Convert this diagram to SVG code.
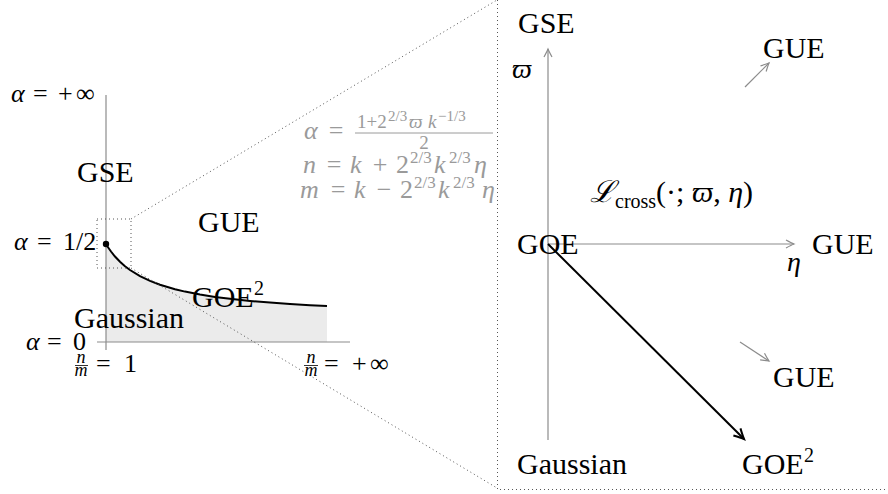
<svg xmlns="http://www.w3.org/2000/svg" width="888" height="494" viewBox="0 0 888 494">
<style>
text{font-family:"Liberation Serif","DejaVu Serif",serif;fill:#000}
.lb{font-size:30px}
.m{font-style:italic}
.ax{font-size:26px}
.f{fill:#9a9a9a;font-size:26px}
.fs{fill:#9a9a9a;font-size:17px}
.fn{fill:#9a9a9a;font-size:19px}
.fx{fill:#9a9a9a;font-size:15px}
.axis{stroke:#8c8c8c;stroke-width:1.2;fill:none}
.dot{stroke:#555;stroke-width:1;stroke-dasharray:1 3;fill:none}
</style>
<defs>
<marker id="ag" markerUnits="userSpaceOnUse" orient="auto" markerWidth="1" markerHeight="1" style="overflow:visible"><path d="M-8,-4 Q-2.5,-1 0,0 Q-2.5,1 -8,4" fill="none" stroke="#8c8c8c" stroke-width="1.2"/></marker>
<marker id="ab" markerUnits="userSpaceOnUse" orient="auto" markerWidth="1" markerHeight="1" style="overflow:visible"><path d="M-10,-5 Q-3,-1.2 0,0 Q-3,1.2 -10,5" fill="none" stroke="#000" stroke-width="2"/></marker>
<clipPath id="cl"><rect x="0" y="0" width="497" height="494"/></clipPath>
</defs>

<g id="left-plot">
<path d="M106,244 L108,247.2 111,251.5 115,256.5 120,261.8 125,266.2 130,270 140,276.2 150,280.9 160,284.8 175,289.2 185,291.6 200,294.5 215,296.9 230,298.8 250,300.9 270,302.6 290,304 310,305.2 327,306.1 L327,342 L106,342 Z" fill="#ebebeb"/>
<line class="axis" x1="106" y1="95" x2="106" y2="350"/>
<line class="axis" x1="97" y1="342" x2="350" y2="342"/>
<path d="M106,244 L108,247.2 111,251.5 115,256.5 120,261.8 125,266.2 130,270 140,276.2 150,280.9 160,284.8 175,289.2 185,291.6 200,294.5 215,296.9 230,298.8 250,300.9 270,302.6 290,304 310,305.2 327,306.1" fill="none" stroke="#000" stroke-width="2"/>
<circle cx="106" cy="244" r="3.2" fill="#000"/>
<rect class="dot" x="97" y="219" width="34" height="49"/>
</g>

<g id="zoom-lines">
<line class="dot" x1="131" y1="219" x2="497" y2="0"/>
<line class="dot" x1="131" y1="268" x2="497" y2="488"/>
<path class="dot" d="M497.5,0 V489.5 H888"/>
</g>

<g id="left-labels">
<text class="ax" y="102"><tspan class="m" x="11">α</tspan><tspan x="33">=</tspan><tspan x="58">+</tspan><tspan x="76" textLength="26">∞</tspan></text>
<text class="ax" y="250"><tspan class="m" x="14">α</tspan><tspan x="37">=</tspan><tspan x="63">1/2</tspan></text>
<text class="ax" y="350"><tspan class="m" x="26">α</tspan><tspan x="47">=</tspan><tspan x="73">0</tspan></text>
<g id="frac1">
<text class="m" x="81" y="363" font-size="18" text-anchor="middle">n</text>
<line x1="75" y1="365.5" x2="88" y2="365.5" stroke="#000" stroke-width="0.8"/>
<text class="m" x="81" y="376" font-size="18" text-anchor="middle">m</text>
<text class="ax" y="372"><tspan x="96">=</tspan><tspan x="124">1</tspan></text>
</g>
<g id="frac2">
<text class="m" x="311" y="363" font-size="18" text-anchor="middle">n</text>
<line x1="304" y1="365.5" x2="318" y2="365.5" stroke="#000" stroke-width="0.8"/>
<text class="m" x="311" y="376" font-size="18" text-anchor="middle">m</text>
<text class="ax" y="372"><tspan x="324">=</tspan><tspan x="352">+</tspan><tspan x="370" textLength="28">∞</tspan></text>
</g>
</g>

<g id="node-gse-left"><text class="lb" x="77" y="182">GSE</text></g>
<g id="node-gue-left"><text class="lb" x="198" y="232">GUE</text></g>
<g id="node-goe2-left"><text class="lb" x="192" y="307">GOE</text><text x="254" y="295" font-size="20">2</text></g>
<g id="node-gaussian-left"><text class="lb" x="74" y="328">Gaussian</text></g>

<g id="formulas" clip-path="url(#cl)">
<text class="f m" x="304" y="139">α</text>
<text class="f" x="336" y="139" text-anchor="middle">=</text>
<text class="fn" x="357" y="128">1+2</text>
<text class="fx" x="388" y="121">2/3</text>
<text class="fn m" x="409" y="128">ϖ</text>
<text class="fn m" x="428" y="128">k</text>
<text class="fx" x="438" y="121">−1/3</text>
<line x1="355" y1="133" x2="493" y2="133" stroke="#9a9a9a" stroke-width="1"/>
<text class="fn" x="424" y="149" text-anchor="middle">2</text>

<text class="f m" x="303" y="173">n</text>
<text class="f" x="334" y="173" text-anchor="middle">=</text>
<text class="f m" x="350" y="173">k</text>
<text class="f" x="380" y="173" text-anchor="middle">+</text>
<text class="f" x="396" y="173">2</text>
<text class="fs" x="410" y="163">2/3</text>
<text class="f m" x="434" y="173">k</text>
<text class="fs" x="449" y="163">2/3</text>
<text class="f m" x="474" y="173">η</text>

<text class="f m" x="300" y="198">m</text>
<text class="f" x="338" y="198" text-anchor="middle">=</text>
<text class="f m" x="354" y="198">k</text>
<text class="f" x="384" y="198" text-anchor="middle">−</text>
<text class="f" x="400" y="198">2</text>
<text class="fs" x="414" y="188">2/3</text>
<text class="f m" x="438" y="198">k</text>
<text class="fs" x="453" y="188">2/3</text>
<text class="f m" x="482" y="198">η</text>
</g>

<g id="connectors">
<line class="axis" x1="548" y1="440" x2="548" y2="49" marker-end="url(#ag)"/>
<line class="axis" x1="548" y1="244" x2="794" y2="244" marker-end="url(#ag)"/>
<line x1="548" y1="244" x2="744" y2="439" stroke="#000" stroke-width="2" marker-end="url(#ab)"/>
<line class="axis" x1="745" y1="87" x2="769" y2="63" marker-end="url(#ag)"/>
<line class="axis" x1="740" y1="342" x2="769" y2="361" marker-end="url(#ag)"/>
</g>

<g id="axis-labels">
<text class="m" x="512" y="78" font-size="28">ϖ</text>
<text class="m" x="787" y="271" font-size="28">η</text>
</g>

<g id="label-lcross">
<text x="590" y="202" font-size="30"><tspan font-family="DejaVu Serif" font-style="italic">ℒ</tspan><tspan font-size="20" dy="6">cross</tspan><tspan dy="-6">(·; </tspan><tspan class="m">ϖ</tspan><tspan>, </tspan><tspan class="m">η</tspan><tspan>)</tspan></text>
</g>

<g id="node-gse-right"><text class="lb" x="518" y="33">GSE</text></g>
<g id="node-gue-top"><text class="lb" x="763" y="58">GUE</text></g>
<g id="node-goe"><text class="lb" x="517" y="254">GOE</text></g>
<g id="node-gue-right"><text class="lb" x="812" y="254">GUE</text></g>
<g id="node-gue-bottom"><text class="lb" x="773" y="387">GUE</text></g>
<g id="node-gaussian-right"><text class="lb" x="517" y="474">Gaussian</text></g>
<g id="node-goe2-right"><text class="lb" x="742" y="474">GOE</text><text x="804" y="462" font-size="20">2</text></g>
</svg>
